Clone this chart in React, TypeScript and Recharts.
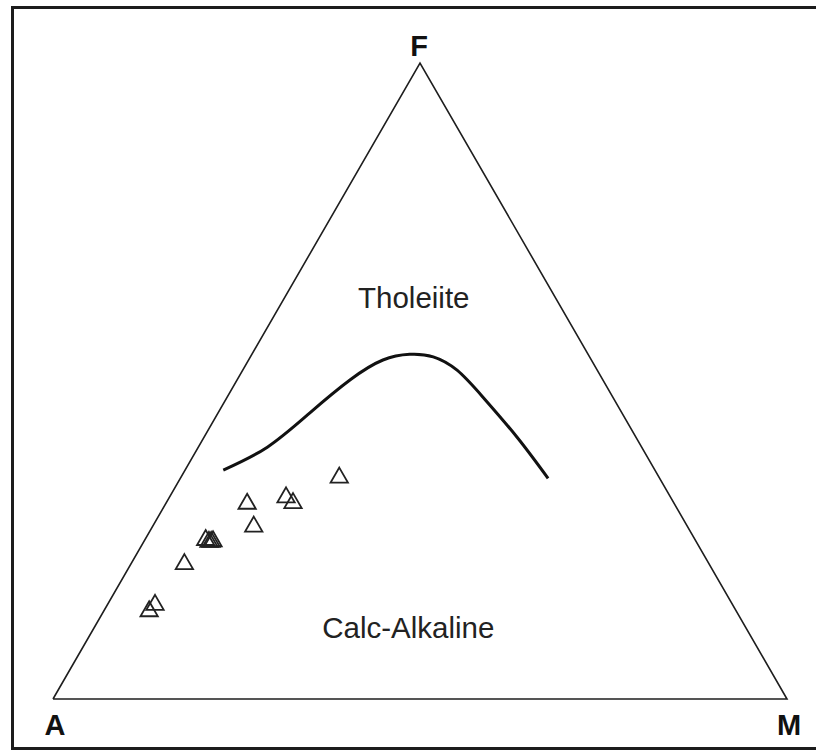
import React from "react";
import {
  ComposedChart,
  Line,
  Scatter,
  XAxis,
  YAxis,
  ZAxis,
  ReferenceDot,
} from "recharts";

// Ternary compositions (A, F, M in %)
const vertexA = [100, 0, 0];
const vertexM = [0, 0, 100];
const vertexF = [0, 100, 0];

// Tholeiite / Calc-Alkaline boundary
const boundaryA = [58.8, 51.0, 42.5, 34.4, 28.4, 24.3, 21.3, 19.1, 17.7, 16.2, 15.2];
const boundaryF = [36.0, 39.6, 45.0, 50.2, 53.3, 54.2, 53.8, 51.7, 47.5, 41.2, 34.7];
const boundaryM = [5.2, 9.4, 12.5, 15.4, 18.3, 21.5, 24.9, 29.2, 34.8, 42.6, 50.1];

// Samples
const sampleA = [43.6, 52.4, 51.9, 58.2, 59.1, 66.7, 66.4, 66.1, 65.8, 71.5, 78.7, 80.0];
const sampleF = [34.8, 31.7, 30.8, 30.7, 27.1, 25.0, 24.7, 24.7, 24.8, 21.2, 14.8, 13.8];
const sampleM = [21.6, 15.9, 17.3, 11.1, 13.8, 8.3, 8.9, 9.2, 9.4, 7.3, 6.5, 6.2];

// Field labels and their anchor compositions (A, F, M)
const fieldNames = ["Tholeiite", "Calc-Alkaline"];
const fieldA = [20.1, 46.8];
const fieldF = [61.5, 9.6];
const fieldM = [18.4, 43.6];

const H = Math.sqrt(3) / 2;
const toXY = (a: number, f: number, m: number) => {
  const s = a + f + m;
  return { x: ((m + f / 2) / s) * 100, y: (f / s) * 100 * H };
};

const outline = [vertexA, vertexM, vertexF, vertexA].map((v) => toXY(v[0], v[1], v[2]));
const boundary = boundaryA.map((a, i) => toXY(a, boundaryF[i], boundaryM[i]));
const samples = sampleA.map((a, i) => toXY(a, sampleF[i], sampleM[i]));
const fields = fieldNames.map((name, i) => ({ name, ...toXY(fieldA[i], fieldF[i], fieldM[i]) }));

const vertexLabels = [
  { name: "A", ...toXY(vertexA[0], vertexA[1], vertexA[2]), dx: 2, dy: 36 },
  { name: "M", ...toXY(vertexM[0], vertexM[1], vertexM[2]), dx: 2, dy: 36 },
  { name: "F", ...toXY(vertexF[0], vertexF[1], vertexF[2]), dx: -1, dy: -7 },
];

const FONT = '"Liberation Sans", Arial, Helvetica, sans-serif';
const bar = { position: "absolute" as const, background: "#1c1c1c" };

export default function App() {
  return (
    <div
      style={{
        position: "fixed",
        left: 0,
        top: 0,
        width: 816,
        height: 751,
        overflow: "hidden",
        background: "#fff",
      }}
    >
      <div style={{ ...bar, left: 11, top: 6, width: 805, height: 3 }} />
      <div style={{ ...bar, left: 11, top: 6, width: 3, height: 744 }} />
      <div style={{ ...bar, left: 11, top: 747, width: 805, height: 3 }} />
      <div style={{ position: "absolute", left: 0, top: 0 }}>
        <ComposedChart
          width={816}
          height={751}
          margin={{ top: 63, right: 29, bottom: 52, left: 53 }}
        >
          <XAxis type="number" dataKey="x" domain={[0, 100]} hide />
          <YAxis type="number" dataKey="y" domain={[0, 100 * H]} hide />
          <ZAxis range={[130, 130]} />
          <Line
            data={outline}
            dataKey="y"
            type="linear"
            stroke="#1e1e1e"
            strokeWidth={1.6}
            dot={false}
            activeDot={false}
            isAnimationActive={false}
          />
          <Line
            data={boundary}
            dataKey="y"
            type="natural"
            stroke="#111"
            strokeWidth={3}
            dot={false}
            activeDot={false}
            isAnimationActive={false}
          />
          <Scatter
            data={samples}
            shape="triangle"
            fill="none"
            stroke="#222"
            strokeWidth={1.8}
            isAnimationActive={false}
          />
          {vertexLabels.map((v) => (
            <ReferenceDot
              key={v.name}
              x={v.x}
              y={v.y}
              ifOverflow="visible"
              shape={(p: any) => (
                <text
                  x={p.cx + v.dx}
                  y={p.cy + v.dy}
                  textAnchor="middle"
                  fontFamily={FONT}
                  fontWeight="bold"
                  fontSize={29}
                  fill="#111"
                >
                  {v.name}
                </text>
              )}
            />
          ))}
          {fields.map((f) => (
            <ReferenceDot
              key={f.name}
              x={f.x}
              y={f.y}
              ifOverflow="visible"
              shape={(p: any) => (
                <text
                  x={p.cx}
                  y={p.cy}
                  textAnchor="middle"
                  fontFamily={FONT}
                  fontSize={29.5}
                  fill="#222"
                >
                  {f.name}
                </text>
              )}
            />
          ))}
        </ComposedChart>
      </div>
    </div>
  );
}
